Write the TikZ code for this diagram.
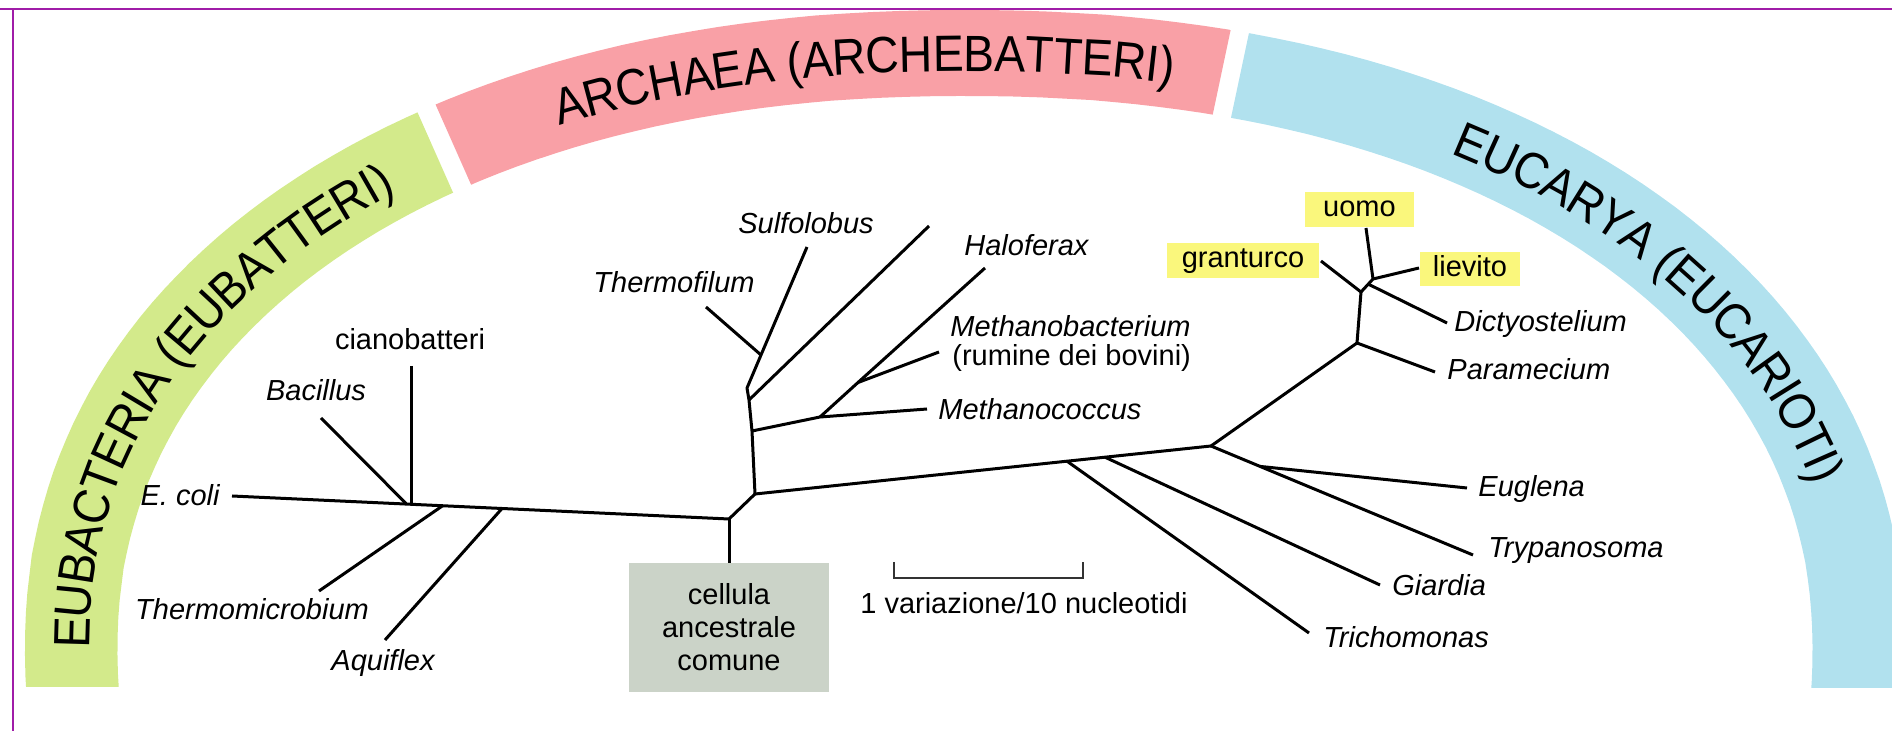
\documentclass[tikz,border=0pt]{standalone}
\usepackage{fontspec}
\setmainfont{Liberation Sans}
\newfontfamily\bandfam[FakeStretch=0.91]{Liberation Sans}
\usetikzlibrary{decorations.text}
\definecolor{bgreen}{HTML}{D3EA8B}
\definecolor{bpink}{HTML}{F9A0A6}
\definecolor{bblue}{HTML}{B1E1EE}
\definecolor{ylab}{HTML}{FAF77C}
\definecolor{ancfill}{HTML}{CBD3C8}
\definecolor{framecol}{HTML}{A01CA8}
\newcommand\lblfont{\fontsize{14.5}{16.5}\selectfont}
\newcommand\bandfont{\bandfam\fontsize{25.5}{29}\selectfont}
\begin{document}
\begin{tikzpicture}[x=0.5pt,y=-0.5pt,
  declare function={sx(\p,\q)=965+\q*sign(cos(\p))*pow(abs(cos(\p)),0.93);
                    sr(\p,\q)=\q*sign(sin(\p))*pow(abs(sin(\p)),0.93);},
  branch/.style={line width=1.5pt, line join=round},
  lbl/.style={font=\lblfont, inner sep=0pt},
  sp/.style={font=\lblfont\itshape, inner sep=0pt},
  ybox/.style={fill=ylab, font=\lblfont, inner sep=0pt, text height=10.5pt, text depth=3pt, minimum height=17.5pt},
  bandtext/.style={decorate, decoration={text along path, raise=-9.2pt, text={|\bandfont|#1}}}
]
\useasboundingbox (0,0) rectangle (1892,731);
\clip (0,0) rectangle (1892,731);

% ---- coloured bands ----
\begin{scope}
  \clip (315,-119) -- (560,434) -- (560,687) -- (-100,687) -- (-100,-119) -- cycle;
  \fill[bgreen, even odd rule]
    plot[domain=0.3:360.3, samples=241] ({sx(\x,940)},{650-sr(\x,640)}) -- cycle
    plot[domain=0.3:360.3, samples=241] ({sx(\x,847.5)},{650-sr(\x,554)}) -- cycle;
\end{scope}
\begin{scope}
  \clip (298,-206) -- (1284,-222) -- (1158,373) -- (578,426) -- cycle;
  \fill[bpink, even odd rule]
    plot[domain=0.3:360.3, samples=241] ({sx(\x,940)},{650-sr(\x,640)}) -- cycle
    plot[domain=0.3:360.3, samples=241] ({sx(\x,847.5)},{650-sr(\x,554)}) -- cycle;
\end{scope}
\begin{scope}
  \clip (1302,-217) -- (2000,-217) -- (2000,688) -- (1176,688) -- (1176,377) -- cycle;
  \fill[bblue, even odd rule]
    plot[domain=0.3:360.3, samples=241] ({sx(\x,940)},{650-sr(\x,640)}) -- cycle
    plot[domain=0.3:360.3, samples=241] ({sx(\x,847.5)},{650-sr(\x,554)}) -- cycle;
\end{scope}

% ---- band labels ----
\path[bandtext={EUBACTERIA (EUBATTERI)}]
  plot[domain=0:100, samples=201] ({sx(179.9-\x,893.75)},{650-sr(179.9-\x,597)});
\path[bandtext={ARCHAEA (ARCHEBATTERI)}]
  plot[domain=0:75, samples=151] ({sx(115.7-\x,893.75)},{650-sr(115.7-\x,597)});
\path[bandtext={EUCARYA (EUCARIOTI)}]
  plot[domain=0:80, samples=161] ({sx(58.2-\x,893.75)},{650-sr(58.2-\x,597)});

% ---- page frame lines ----
\draw[framecol, line width=1pt] (0,9) -- (1892,9);
\draw[framecol, line width=1pt] (13,9) -- (13,731);

% ---- tree coordinates ----
\coordinate (ec) at (232,496);
\coordinate (n1) at (406,503.5);
\coordinate (cbt) at (411,366);
\coordinate (cbb) at (411,503.8);
\coordinate (bac) at (321,418);
\coordinate (n2) at (443,505.5);
\coordinate (tm) at (319,591);
\coordinate (n3) at (502,508.5);
\coordinate (aq) at (385,640);
\coordinate (root) at (729,519);
\coordinate (A) at (755,494);
\coordinate (B) at (752,431);
\coordinate (C) at (749,400);
\coordinate (D) at (747,388);
\coordinate (E) at (761,355);
\coordinate (sulf) at (807,247);
\coordinate (thf) at (706,307);
\coordinate (arch2) at (929,226);
\coordinate (F) at (820,417);
\coordinate (meco) at (927,409);
\coordinate (G) at (858,382.5);
\coordinate (halo) at (985,268);
\coordinate (meba) at (939,352);
\coordinate (T1) at (1067,461.2);
\coordinate (trich) at (1309,633);
\coordinate (T2) at (1105,457.2);
\coordinate (giar) at (1380,585);
\coordinate (H) at (1211,446);
\coordinate (I) at (1260,466.4);
\coordinate (tryp) at (1473,555);
\coordinate (eugl) at (1467,488);
\coordinate (J) at (1357,343);
\coordinate (par) at (1435,372);
\coordinate (K) at (1361,292);
\coordinate (gran) at (1321,261);
\coordinate (L) at (1373,279);
\coordinate (uomoE) at (1366,228);
\coordinate (liev) at (1419,268);
\coordinate (M) at (1368,284);
\coordinate (dict) at (1447,323);

% ---- ancestral cell box ----
\node[fill=ancfill, minimum width=100pt, minimum height=64.5pt, align=center, font=\lblfont, inner sep=0pt] (anc) at (729,627.5) {cellula\\ancestrale\\comune};

% ---- branches ----
\draw[branch] (ec) -- (root) -- (A);
\draw[branch] (root) -- (anc.north);
\draw[branch] (cbt) -- (cbb);
\draw[branch] (bac) -- (n1);
\draw[branch] (n2) -- (tm);
\draw[branch] (n3) -- (aq);
\draw[branch] (A) -- (B) -- (C) -- (D) -- (E) -- (sulf);
\draw[branch] (E) -- (thf);
\draw[branch] (C) -- (arch2);
\draw[branch] (B) -- (F) -- (meco);
\draw[branch] (F) -- (G) -- (halo);
\draw[branch] (G) -- (meba);
\draw[branch] (A) -- (T1) -- (T2) -- (H);
\draw[branch] (T1) -- (trich);
\draw[branch] (T2) -- (giar);
\draw[branch] (H) -- (I) -- (tryp);
\draw[branch] (I) -- (eugl);
\draw[branch] (H) -- (J) -- (par);
\draw[branch] (J) -- (K) -- (gran);
\draw[branch] (K) -- (L) -- (uomoE);
\draw[branch] (L) -- (liev);
\draw[branch] (M) -- (dict);

% ---- scale bar ----
\coordinate (sb1) at (894,562);
\coordinate (sb2) at (894,578);
\coordinate (sb3) at (1083,578);
\coordinate (sb4) at (1083,562);
\draw[line width=0.75pt, black!80] (sb1) -- (sb2) -- (sb3) -- (sb4);
\node[lbl, anchor=base] (lScale) at (1024,614) {1 variazione/10 nucleotidi};

% ---- labels ----
\node[sp, anchor=base east] (lEcoli) at (220,506) {E. coli};
\node[lbl, anchor=base] (lCiano) at (410,350) {cianobatteri};
\node[sp, anchor=base] (lBac) at (316,401) {Bacillus};
\node[sp, anchor=base] (lThm) at (252,620) {Thermomicrobium};
\node[sp, anchor=base] (lAqu) at (383,671) {Aquiflex};
\node[sp, anchor=base east] (lThf) at (755,293) {Thermofilum};
\node[sp, anchor=base] (lSul) at (806,234) {Sulfolobus};
\node[sp, anchor=base west] (lHal) at (964,256) {Haloferax};
\node[sp, anchor=base west] (lMeb) at (950,337) {Methanobacterium};
\node[lbl, anchor=base west] (lRum) at (952,366) {(rumine dei bovini)};
\node[sp, anchor=base west] (lMec) at (938,420) {Methanococcus};

\node[ybox, minimum width=54.5pt] (uomo) at (1359.5,209.5) {uomo};
\node[ybox, minimum width=76pt] (granturco) at (1243,260.5) {granturco};
\node[ybox, minimum width=50pt, minimum height=17pt] (lievito) at (1470,269) {lievito};

\node[sp, anchor=base west] (lDic) at (1454,332) {Dictyostelium};
\node[sp, anchor=base west] (lPar) at (1447,380) {Paramecium};
\node[sp, anchor=base west] (lEug) at (1478,497) {Euglena};
\node[sp, anchor=base west] (lTry) at (1488,558) {Trypanosoma};
\node[sp, anchor=base west] (lGia) at (1392,596) {Giardia};
\node[sp, anchor=base west] (lTri) at (1323,648) {Trichomonas};
\end{tikzpicture}
\end{document}
